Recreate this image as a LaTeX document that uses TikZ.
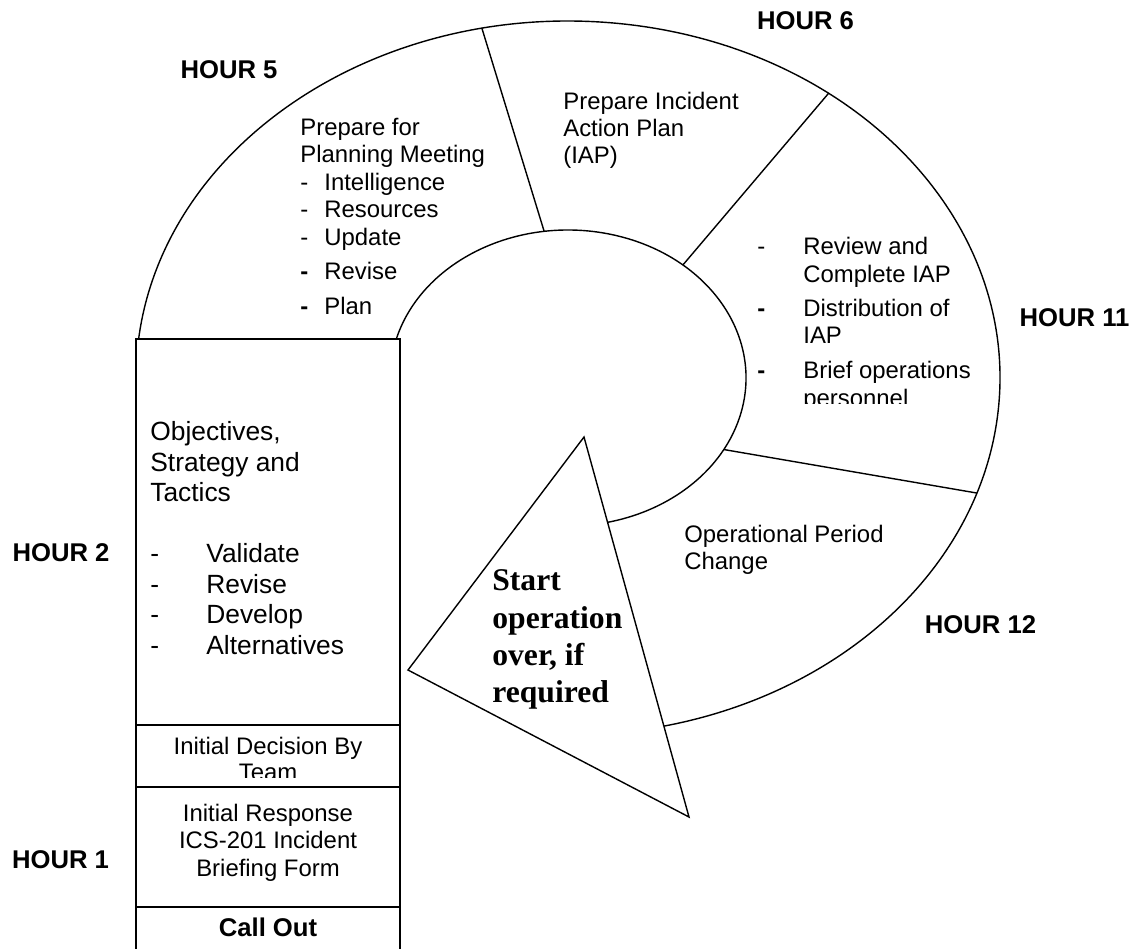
\documentclass[tikz,border=0pt]{standalone}
\usepackage{fontspec}
\setmainfont{Liberation Sans}
\newfontfamily\serifbold{Liberation Serif}
\usetikzlibrary{calc}
\tikzset{
  hour/.style={font=\bfseries\fontsize{14.6}{17}\selectfont, inner sep=0pt},
  txt/.style={font=\fontsize{13.6}{15.6}\selectfont, inner sep=0pt, align=left, anchor=north west},
  rim/.style={line width=0.8pt},
  cell/.style={line width=1.1pt}
}
\newcommand{\dsh}[1]{\makebox[#1][l]{-}}
\newcommand{\bdsh}[1]{\makebox[#1][l]{\textbf{-}}}

\begin{document}
\begin{tikzpicture}[x=0.02cm,y=-0.02cm]
\clip (0,0) rectangle (1148,948);
\coordinate (c) at (568,378);
% ring
\draw[rim] (c) ++(-173.7:432 and 357) arc[start angle=-173.7, end angle=80, x radius=432, y radius=357];
\draw[rim] (c) ++(-164.7:178 and 148) arc[start angle=-164.7, end angle=85, x radius=178, y radius=148];
\draw[rim] ($(c)+(-97.7:178 and 148)$) -- ($(c)+(-101.5:432 and 357)$);
\draw[rim] ($(c)+(-49.8:178 and 148)$) -- ($(c)+(-52.9:432 and 357)$);
\draw[rim] ($(c)+(28.9:178 and 148)$) -- ($(c)+(18.8:432 and 357)$);
\draw[rim, fill=white] (584,437) -- (408,670) -- (689,817) -- cycle;
% stack
\draw[cell] (136,339) rectangle (400,960);
\draw[cell] (136,725) -- (400,725);
\draw[cell] (136,787) -- (400,787);
\draw[cell] (136,907) -- (400,907);

\node[txt, font=\fontsize{13.6}{15.65}\selectfont] (prep) at (300,117.5)
  {Prepare for\\Planning Meeting\\\dsh{13.7pt}Intelligence\\\dsh{13.7pt}Resources\\\dsh{13.7pt}Update\\[3.7pt]\bdsh{13.7pt}Revise\\[4.3pt]\bdsh{13.7pt}Plan};
\node[txt, font=\fontsize{13.6}{15.4}\selectfont] (iap) at (563,92) {Prepare Incident\\Action Plan\\(IAP)};
\begin{scope}
\clip (740,200) rectangle (1000,403);
\node[txt, font=\fontsize{13.6}{15.9}\selectfont] (review) at (757,236.5)
  {\dsh{26.2pt}Review and\\\hspace*{26.2pt}Complete IAP\\[3.4pt]\bdsh{26.2pt}Distribution of\\\hspace*{26.2pt}IAP\\[4pt]\bdsh{26.2pt}Brief operations\\\hspace*{26.2pt}personnel};
\end{scope}
\node[txt, font=\fontsize{13.6}{15.4}\selectfont] (opchange) at (684,524.5) {Operational Period\\Change};
\node[txt, font=\serifbold\bfseries\fontsize{18}{21.2}\selectfont] (restart) at (492,569.5) {Start\\operation\\over, if\\required};
\node[txt, font=\fontsize{15}{17.4}\selectfont] (objectives) at (150,421)
  {Objectives,\\Strategy and\\Tactics\\[17.4pt]\dsh{31.9pt}Validate\\\dsh{31.9pt}Revise\\\dsh{31.9pt}Develop\\\dsh{31.9pt}Alternatives};
\begin{scope}
\clip (136,725) rectangle (400,777);
\node[txt, anchor=north, align=center, font=\fontsize{13.6}{14.8}\selectfont] (decision) at (268,736.5) {Initial Decision By\\Team};
\end{scope}
\node[txt, anchor=north, align=center, font=\fontsize{13.6}{15.65}\selectfont] (response) at (268,803.5) {Initial Response\\ICS-201 Incident\\Briefing Form};
\node[hour] (callout) at (268,927) {Call Out};

\node[hour] (h5) at (229,70) {HOUR 5};
\node[hour] (h6) at (805.5,21) {HOUR 6};
\node[hour] (h11) at (1074.5,318) {HOUR 11};
\node[hour] (h12) at (980.5,625) {HOUR 12};
\node[hour] (h2) at (61,553) {HOUR 2};
\node[hour] (h1) at (60.5,860) {HOUR 1};
\end{tikzpicture}
\end{document}
